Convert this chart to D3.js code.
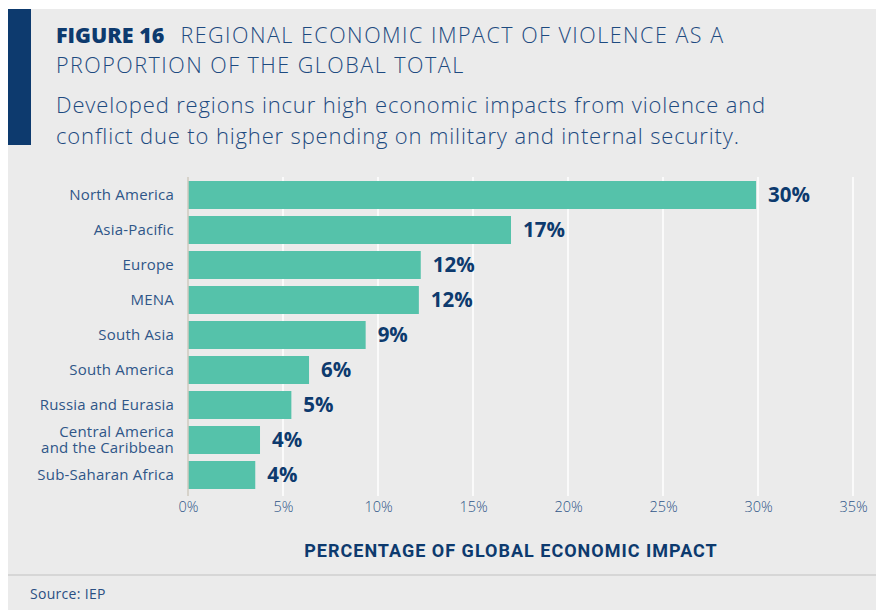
<!DOCTYPE html>
<html>
<head>
<meta charset="utf-8">
<script src="https://cdn.jsdelivr.net/npm/d3@7"></script>
<style>
  body { margin: 0; background: #ffffff; }
  text { font-family: "Open Sans", Roboto, sans-serif; }
</style>
</head>
<body>
<div id="chart"></div>
<script>
// data
var regions = ["North America", "Asia-Pacific", "Europe", "MENA", "South Asia",
  "South America", "Russia and Eurasia", "Central America\nand the Caribbean", "Sub-Saharan Africa"];
var shares = [29.9, 17.0, 12.25, 12.15, 9.35, 6.37, 5.44, 3.79, 3.54];
var shareLabels = ["30%", "17%", "12%", "12%", "9%", "6%", "5%", "4%", "4%"];
var tickValues = [0, 5, 10, 15, 20, 25, 30, 35];

var width = 876, height = 610;
var navy = "#0d3a6e", textBlue = "#2f5688";

var svg = d3.select("#chart").append("svg")
  .attr("width", width)
  .attr("height", height);

// panel background
svg.append("rect").attr("x", 8).attr("y", 9)
  .attr("width", width - 8).attr("height", height - 9)
  .attr("fill", "#ebebeb");
svg.append("rect").attr("x", 8).attr("y", 9)
  .attr("width", 23).attr("height", 136)
  .attr("fill", navy);

// title
var title = svg.append("text").attr("x", 56).attr("y", 43)
  .attr("font-size", 21.5).attr("fill", "#1d4a80");
title.append("tspan").attr("font-weight", 800).attr("fill", navy)
  .text("FIGURE 16");
title.append("tspan").attr("dx", 16).attr("font-weight", 300)
  .attr("letter-spacing", 1.5).text("REGIONAL ECONOMIC IMPACT OF VIOLENCE AS A");
svg.append("text").attr("x", 56).attr("y", 73)
  .attr("font-size", 21.5).attr("font-weight", 300).attr("fill", "#1d4a80")
  .attr("letter-spacing", 1.5)
  .text("PROPORTION OF THE GLOBAL TOTAL");

svg.selectAll(".subtitle")
  .data(["Developed regions incur high economic impacts from violence and",
         "conflict due to higher spending on military and internal security."])
  .enter().append("text")
  .attr("class", "subtitle")
  .attr("x", 56)
  .attr("y", (d, i) => 113 + i * 31)
  .attr("font-size", 22)
  .attr("font-weight", 300)
  .attr("letter-spacing", 0.85)
  .attr("fill", "#1d4a80")
  .text(d => d);

// scales
var x = d3.scaleLinear().domain([0, 35]).range([188, 853]);
var y = d3.scaleBand().domain(regions).range([177.5, 492.5]).paddingInner(0.2).paddingOuter(0.1);

// gridlines
svg.append("g").selectAll("line")
  .data(tickValues.slice(1))
  .enter().append("line")
  .attr("x1", d => x(d)).attr("x2", d => x(d))
  .attr("y1", 177).attr("y2", 496)
  .attr("stroke", "#ffffff").attr("stroke-width", 1.5);

// bars
svg.append("g").selectAll("rect")
  .data(shares)
  .enter().append("rect")
  .attr("x", x(0))
  .attr("y", (d, i) => y(regions[i]))
  .attr("width", d => x(d) - x(0))
  .attr("height", y.bandwidth())
  .attr("fill", "#55c2aa");

// baseline
svg.append("line")
  .attr("x1", x(0)).attr("x2", x(0))
  .attr("y1", 177).attr("y2", 496)
  .attr("stroke", "#cfcabf").attr("stroke-width", 1.5);

// value labels
svg.append("g").selectAll("text")
  .data(shares)
  .enter().append("text")
  .attr("x", d => x(d) + 12)
  .attr("y", (d, i) => y(regions[i]) + y.bandwidth() / 2)
  .attr("dy", "0.36em")
  .attr("font-size", 20.5)
  .attr("font-weight", 700)
  .attr("fill", navy)
  .text((d, i) => shareLabels[i]);

// category labels
var cat = svg.append("g").selectAll("text")
  .data(regions)
  .enter().append("text")
  .attr("text-anchor", "end")
  .attr("x", 174)
  .attr("y", d => y(d) + y.bandwidth() / 2)
  .attr("font-size", 15)
  .attr("letter-spacing", 0.2)
  .attr("fill", textBlue);
cat.each(function (d) {
  var lines = d.split("\n");
  var t = d3.select(this);
  lines.forEach(function (l, i) {
    t.append("tspan")
      .attr("x", 174)
      .attr("dy", i == 0 ? (lines.length > 1 ? -3 : 5.3) : 16)
      .text(l);
  });
});

// x axis
var xAxis = d3.axisBottom(x).tickValues(tickValues).tickSize(0).tickPadding(0)
  .tickFormat(d => d + "%");
var ax = svg.append("g").attr("transform", "translate(0,502)").call(xAxis);
ax.select(".domain").remove();
ax.selectAll("text")
  .attr("font-size", 14.5)
  .attr("font-weight", 300)
  .attr("fill", textBlue)
  .style("font-family", "'Open Sans', sans-serif");

svg.append("text")
  .attr("x", 511).attr("y", 557)
  .attr("text-anchor", "middle")
  .attr("font-size", 18)
  .attr("font-weight", 700)
  .attr("letter-spacing", 1.0)
  .attr("fill", navy)
  .style("font-family", "Roboto, sans-serif")
  .text("PERCENTAGE OF GLOBAL ECONOMIC IMPACT");

// footer
svg.append("line")
  .attr("x1", 8).attr("x2", width)
  .attr("y1", 575).attr("y2", 575)
  .attr("stroke", "#cfcfcf").attr("stroke-width", 1.5);
svg.append("text")
  .attr("x", 30).attr("y", 599)
  .attr("font-size", 14)
  .attr("letter-spacing", 0.3)
  .attr("fill", "#2a4f82")
  .text("Source: IEP");
</script>
</body>
</html>
